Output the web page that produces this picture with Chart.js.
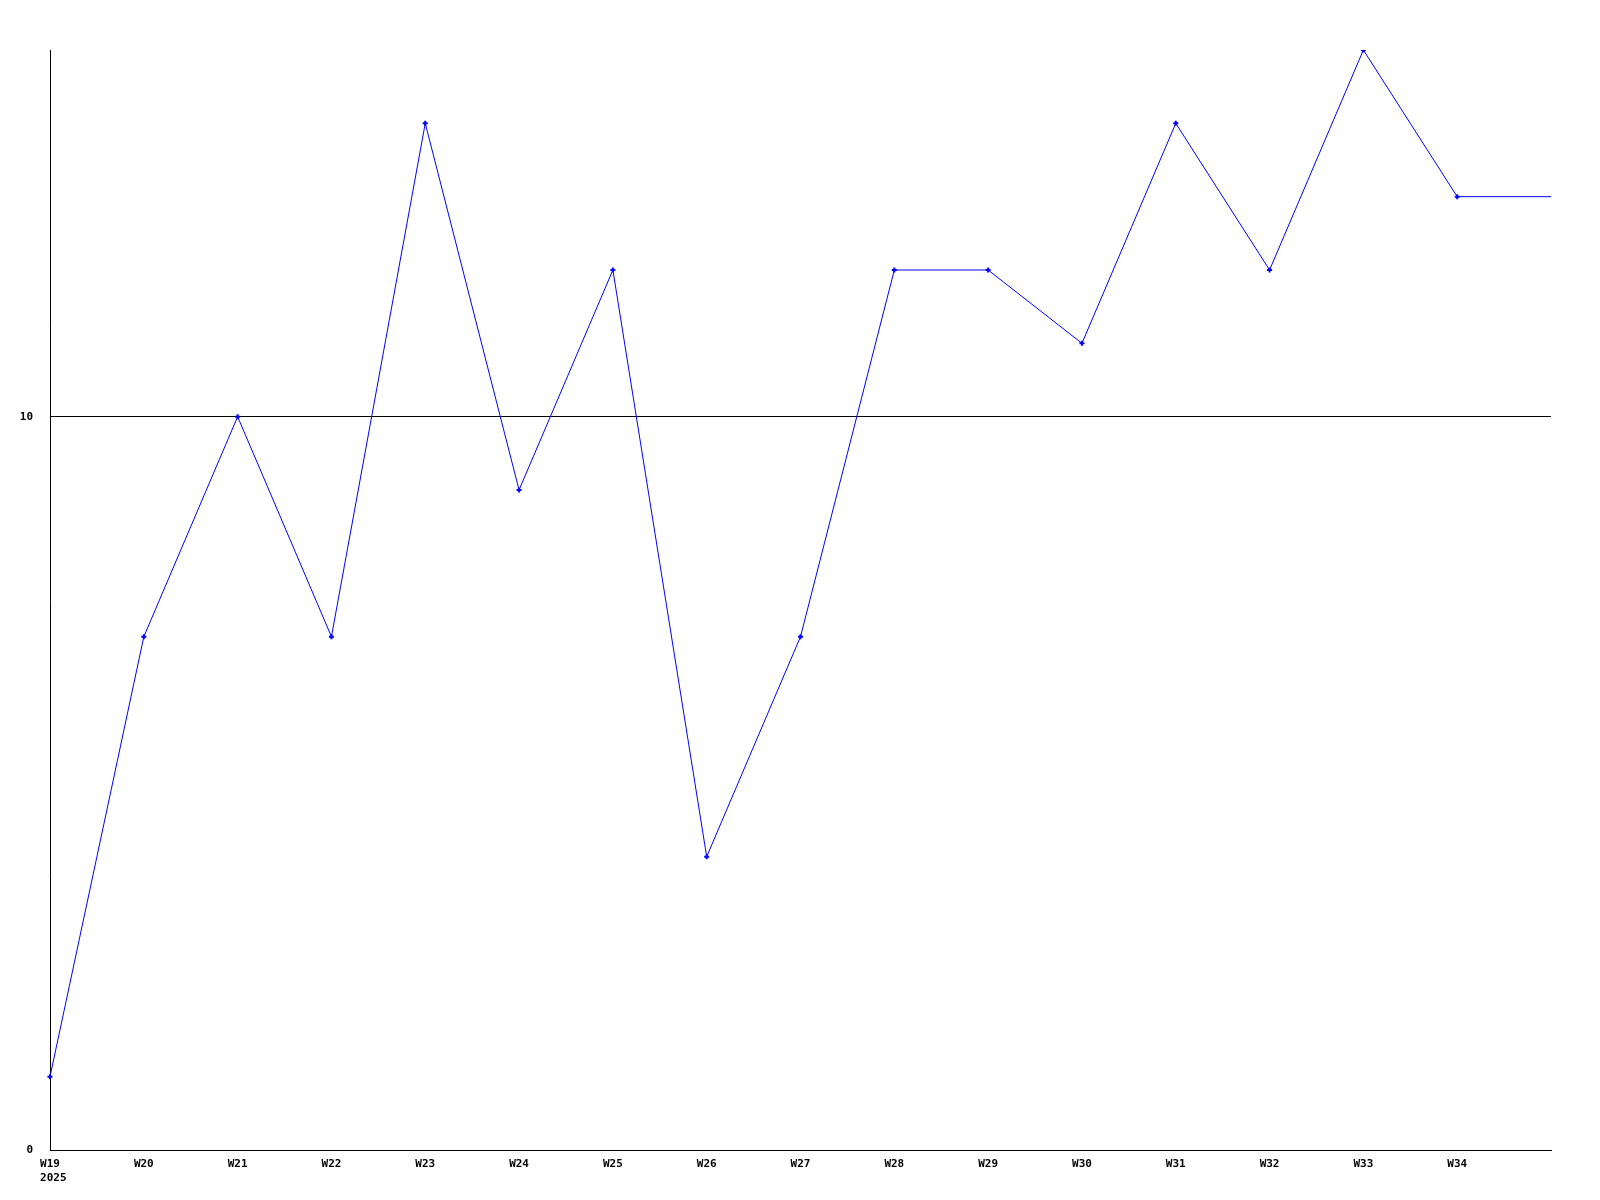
<!DOCTYPE html>
<html>
<head>
<meta charset="utf-8">
<script src="https://cdn.jsdelivr.net/npm/chart.js@4.4.1/dist/chart.umd.min.js"></script>
<style>
html,body{margin:0;padding:0;background:#fff;}
canvas{display:block;}
</style>
</head>
<body>
<canvas id="c" width="1600" height="1200"></canvas>
<script>
const weeks = [["W19"," 2025"],"W20","W21","W22","W23","W24","W25","W26","W27","W28","W29","W30","W31","W32","W33","W34",""];
const values = [1,7,10,7,14,9,12,4,7,12,12,11,14,12,15,13,13];
const yTicks = [0,10];
const yMax = 15;

const pointRadii = values.map((v,i)=> i === values.length-1 ? 0 : 2.5);

new Chart(document.getElementById('c'), {
  type: 'line',
  data: {
    labels: weeks,
    datasets: [{
      data: values,
      borderColor: '#0000ff',
      backgroundColor: '#0000ff',
      borderWidth: 1,
      tension: 0,
      pointStyle: 'cross',
      pointRadius: pointRadii,
      pointBorderWidth: 2,
      pointHoverRadius: 0,
      fill: false
    }]
  },
  options: {
    responsive: false,
    animation: false,
    devicePixelRatio: 1,
    layout: { padding: { top: 50, right: 49, left: 0, bottom: 0 } },
    plugins: { legend: { display: false }, tooltip: { enabled: false } },
    scales: {
      x: {
        type: 'category',
        offset: false,
        grid: { display: false, drawTicks: false },
        border: { display: true, color: '#000', width: 1 },
        ticks: {
          color: '#000',
          font: { family: 'DejaVu Sans Mono', size: 11, weight: 'bold', lineHeight: 1.27 },
          padding: 7,
          maxRotation: 0,
          autoSkip: false
        },
        afterFit: (s) => { s.height = 50; }
      },
      y: {
        min: 0,
        max: yMax,
        afterBuildTicks: (s) => { s.ticks = yTicks.map(v => ({ value: v })); },
        grid: { color: '#000', lineWidth: 1, drawTicks: false },
        border: { display: true, color: '#000', width: 1 },
        ticks: {
          color: '#000',
          font: { family: 'DejaVu Sans Mono', size: 11, weight: 'bold' },
          padding: 17
        },
        afterFit: (s) => { s.width = 50; }
      }
    }
  }
});
</script>
</body>
</html>
